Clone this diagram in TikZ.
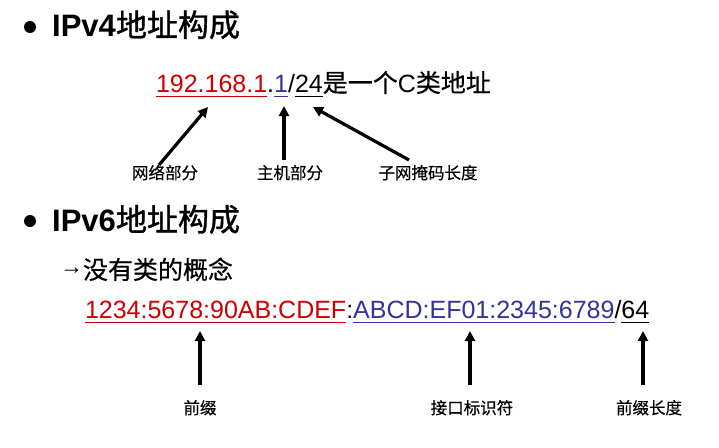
\documentclass[tikz,border=0pt]{standalone}
\usepackage{fontspec}
\setmainfont{Liberation Sans}
\newfontfamily\cjk[FakeBold=0.4]{Noto Sans CJK SC}
\newfontfamily\cjkhead[FakeBold=1.2]{Noto Sans CJK SC}
\usetikzlibrary{arrows.meta}
\definecolor{addrred}{RGB}{204,0,0}
\definecolor{addrblue}{RGB}{51,51,153}
\begin{document}
\begin{tikzpicture}[x=1pt,y=-1pt,
  seg/.style={anchor=base west, inner sep=0pt, outer sep=0pt, font=\fontsize{25}{30}\selectfont},
  headtext/.style={anchor=base west, inner sep=0pt, font=\fontsize{31}{36}\selectfont},
  bulletdot/.style={circle, fill=black, minimum size=12pt, inner sep=0pt},
  lbl/.style={anchor=base, inner sep=0pt, font=\fontsize{16.5}{20}\selectfont\cjk},
  arr/.style={line width=3.2pt, -{Triangle[length=10pt,width=10pt]}},
  ul/.style={line width=1.4pt}]
\path[use as bounding box] (0,0) rectangle (719,447);

% ---- IPv4 heading
\node[bulletdot] (b1) at (30,27) {};
\node[headtext] (h1) at (52,36.5) {{\bfseries IPv4}{\cjkhead 地址构成}};

% ---- IPv4 address
\node[seg, text=addrred] (n1) at (156,92) {192.168.1};
\node[seg] (d1) at (n1.base east) {.};
\node[seg, text=addrblue] (n2) at (d1.base east) {1};
\node[seg] (s1) at (n2.base east) {/};
\node[seg] (n3) at (s1.base east) {24};
\node[seg] (r1) at (n3.base east) {{\cjk 是一个}C{\cjk 类地址}};
\draw[ul, addrred] ([yshift=-4.5pt]n1.base west) -- ([yshift=-4.5pt]n1.base east);
\draw[ul, addrblue] ([yshift=-4.5pt]n2.base west) -- ([yshift=-4.5pt]n2.base east);
\draw[ul, black] ([yshift=-4.5pt]n3.base west) -- ([yshift=-4.5pt]n3.base east);

\node[lbl] (l1) at (165,179) {网络部分};
\node[lbl] (l2) at (290,179) {主机部分};
\node[lbl] (l3) at (428,179) {子网掩码长度};
\coordinate (t1) at (159,165); \coordinate (a1) at (208,107);
\coordinate (t2) at (284,160); \coordinate (a2) at (284,106);
\coordinate (t3) at (409,160); \coordinate (a3) at (313,107);
\draw[arr] (t1) -- (a1);
\draw[arr] (t2) -- (a2);
\draw[arr] (t3) -- (a3);

% ---- IPv6 heading
\node[bulletdot] (b2) at (30,221) {};
\node[headtext] (h2) at (52,231) {{\bfseries IPv6}{\cjkhead 地址构成}};
\node[seg, font=\fontsize{23}{26}\selectfont\bfseries] (ar) at (60,274) {→};
\node[seg] (nc) at (83,279) {\cjk 没有类的概念};

% ---- IPv6 address
\node[seg, text=addrred] (p1) at (85,318) {1234:5678:90AB:CDEF};
\node[seg] (c1) at (p1.base east) {:};
\node[seg, text=addrblue] (p2) at (c1.base east) {ABCD:EF01:2345:6789};
\node[seg] (s2) at (p2.base east) {/};
\node[seg] (p3) at (s2.base east) {64};
\draw[ul, addrred] ([yshift=-4.5pt]p1.base west) -- ([yshift=-4.5pt]p1.base east);
\draw[ul, addrblue] ([yshift=-4.5pt]p2.base west) -- ([yshift=-4.5pt]p2.base east);
\draw[ul, black] ([yshift=-4.5pt]p3.base west) -- ([yshift=-4.5pt]p3.base east);

\node[lbl] (m1) at (200,414) {前缀};
\node[lbl] (m2) at (472,414) {接口标识符};
\node[lbl] (m3) at (649,414) {前缀长度};
\coordinate (u1) at (200,385); \coordinate (v1) at (200,331);
\coordinate (u2) at (470,385); \coordinate (v2) at (470,331);
\coordinate (u3) at (643,385); \coordinate (v3) at (643,331);
\draw[arr] (u1) -- (v1);
\draw[arr] (u2) -- (v2);
\draw[arr] (u3) -- (v3);
\end{tikzpicture}
\end{document}
